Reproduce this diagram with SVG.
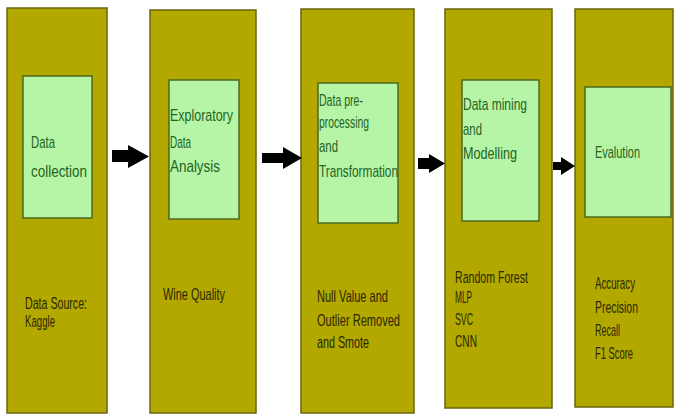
<svg xmlns="http://www.w3.org/2000/svg" width="678" height="416" viewBox="0 0 678 416">
<style>
.outer{fill:#B2A800;stroke:#6A6410;stroke-width:1.5}
.inner{fill:#B6F5A6;stroke:#4B6A1E;stroke-width:1.5}
text{font-family:"Liberation Sans Narrow","Liberation Sans",sans-serif;font-size:17px}
.it{fill:#25621F}
.ot{fill:#2A2700}
.arrow{fill:#000}
</style>
<rect x="0" y="0" width="678" height="416" fill="#FFFFFF"/>
<g id="node-collection">
<rect class="outer" x="7" y="8" width="100" height="405"/>
<rect class="inner" x="23" y="76" width="69" height="142"/>
<text class="it" x="31" y="148" textLength="24" lengthAdjust="spacingAndGlyphs">Data</text>
<text class="it" x="31" y="177" textLength="56" lengthAdjust="spacingAndGlyphs">collection</text>
<text class="ot" x="25" y="309" textLength="62" lengthAdjust="spacingAndGlyphs">Data Source:</text>
<text class="ot" x="25" y="327" textLength="30" lengthAdjust="spacingAndGlyphs">Kaggle</text>
</g>
<g id="node-eda">
<rect class="outer" x="150" y="10" width="106" height="403"/>
<rect class="inner" x="169" y="80" width="70" height="139"/>
<text class="it" x="170" y="121" textLength="63" lengthAdjust="spacingAndGlyphs">Exploratory</text>
<text class="it" x="170" y="148" textLength="21" lengthAdjust="spacingAndGlyphs">Data</text>
<text class="it" x="170" y="172" textLength="50" lengthAdjust="spacingAndGlyphs">Analysis</text>
<text class="ot" x="163" y="300" textLength="62" lengthAdjust="spacingAndGlyphs">Wine Quality</text>
</g>
<g id="node-preprocessing">
<rect class="outer" x="301" y="9" width="113" height="404"/>
<rect class="inner" x="318" y="83" width="80" height="140"/>
<text class="it" x="319" y="106" textLength="44" lengthAdjust="spacingAndGlyphs">Data pre-</text>
<text class="it" x="319" y="128" textLength="50" lengthAdjust="spacingAndGlyphs">processing</text>
<text class="it" x="319" y="152" textLength="19" lengthAdjust="spacingAndGlyphs">and</text>
<text class="it" x="319" y="177" textLength="79" lengthAdjust="spacingAndGlyphs">Transformation</text>
<text class="ot" x="317" y="302" textLength="71" lengthAdjust="spacingAndGlyphs">Null Value and</text>
<text class="ot" x="317" y="326" textLength="83" lengthAdjust="spacingAndGlyphs">Outlier Removed</text>
<text class="ot" x="317" y="348" textLength="52" lengthAdjust="spacingAndGlyphs">and Smote</text>
</g>
<g id="node-modelling">
<rect class="outer" x="445" y="9" width="107" height="399"/>
<rect class="inner" x="462" y="80" width="77" height="141"/>
<text class="it" x="463" y="110" textLength="64" lengthAdjust="spacingAndGlyphs">Data mining</text>
<text class="it" x="463" y="135" textLength="19" lengthAdjust="spacingAndGlyphs">and</text>
<text class="it" x="463" y="159" textLength="54" lengthAdjust="spacingAndGlyphs">Modelling</text>
<text class="ot" x="455" y="283" textLength="73" lengthAdjust="spacingAndGlyphs">Random Forest</text>
<text class="ot" x="455" y="303" textLength="17" lengthAdjust="spacingAndGlyphs">MLP</text>
<text class="ot" x="455" y="325" textLength="18" lengthAdjust="spacingAndGlyphs">SVC</text>
<text class="ot" x="455" y="347" textLength="22" lengthAdjust="spacingAndGlyphs">CNN</text>
</g>
<g id="node-evaluation">
<rect class="outer" x="575" y="9" width="98" height="398"/>
<rect class="inner" x="585" y="87" width="86" height="130"/>
<text class="it" x="595" y="158" textLength="45" lengthAdjust="spacingAndGlyphs">Evalution</text>
<text class="ot" x="595" y="289" textLength="40" lengthAdjust="spacingAndGlyphs">Accuracy</text>
<text class="ot" x="595" y="313" textLength="43" lengthAdjust="spacingAndGlyphs">Precision</text>
<text class="ot" x="595" y="336" textLength="25" lengthAdjust="spacingAndGlyphs">Recall</text>
<text class="ot" x="595" y="359" textLength="38" lengthAdjust="spacingAndGlyphs">F1 Score</text>
</g>
<g id="connectors">
<polygon class="arrow" points="112,150 128,150 128,145 149,156.5 128,168 128,162 112,162"/>
<polygon class="arrow" points="262,153 283,153 283,147 302,158 283,169 283,163 262,163"/>
<polygon class="arrow" points="418,158 429,158 429,154 445,163.5 429,173 429,169 418,169"/>
<polygon class="arrow" points="553,162 561,162 561,157 575,166 561,175 561,170 553,170"/>
</g>
</svg>
